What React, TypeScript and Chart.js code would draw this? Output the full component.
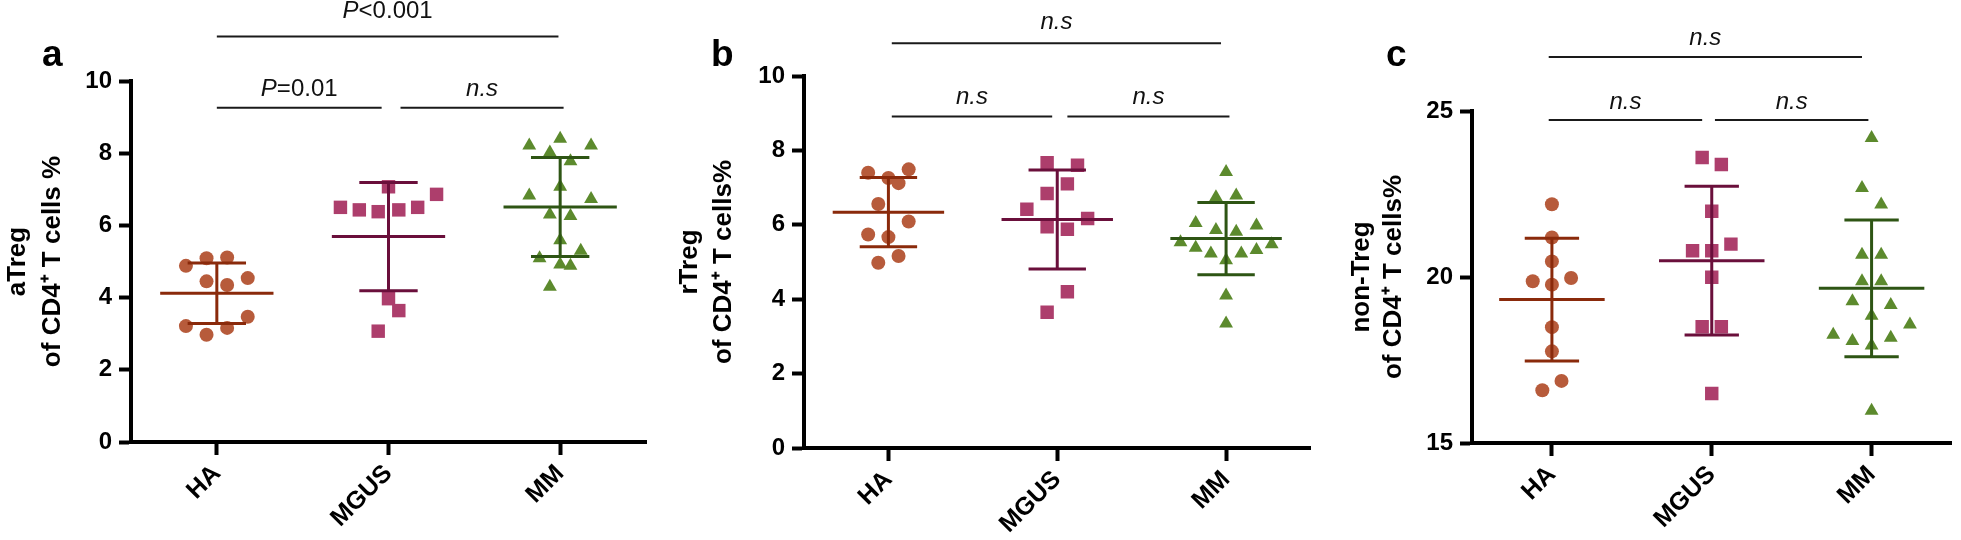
import React, { useEffect, useRef } from 'react';
import { Chart, registerables } from 'chart.js';

Chart.register(...registerables);

const groups = ['HA', 'MGUS', 'MM'];

// ---- Panel a: aTreg of CD4+ T cells % ----
const aHA = [4.88, 5.09, 5.11, 4.54, 4.45, 4.35, 3.21, 2.97, 3.16, 3.47];
const aHAJit = [-0.18, -0.06, 0.06, 0.18, -0.06, 0.06, -0.18, -0.06, 0.06, 0.18];
const aMGUS = [6.5, 6.43, 6.38, 6.43, 6.5, 6.86, 7.07, 3.97, 3.64, 3.07];
const aMGUSJit = [-0.28, -0.17, -0.06, 0.06, 0.17, 0.28, 0, 0, 0.06, -0.06];
const aMM = [8.21, 8.4, 8.21, 8.02, 7.78, 7.07, 6.83, 6.73, 6.3, 6.26, 5.59, 5.3, 5.09, 4.92, 4.88, 4.3];
const aMMJit = [-0.18, 0, 0.18, -0.06, 0.06, 0, -0.18, 0.18, -0.06, 0.06, 0, 0.12, -0.12, 0, 0.06, -0.06];
const aMean = [4.12, 5.69, 6.51];
const aSD = [0.84, 1.5, 1.37];
const aSigLabels = ['P<0.001', 'P=0.01', 'n.s'];
const aSigFrom = [0, 0, 1.07];
const aSigTo = [1.99, 0.96, 2.02];
const aSigY = [11.23, 9.26, 9.26];
const aSigTextY = [11.92, 9.78, 9.78];

// ---- Panel b: rTreg of CD4+ T cells% ----
const bHA = [7.4, 7.26, 7.49, 7.12, 6.56, 6.09, 5.74, 5.67, 5.16, 4.98];
const bHAJit = [-0.12, 0, 0.12, 0.06, -0.06, 0.12, -0.12, 0, 0.06, -0.06];
const bMGUS = [7.67, 7.6, 7.1, 6.84, 6.42, 6.17, 5.95, 5.88, 4.2, 3.65];
const bMGUSJit = [-0.06, 0.12, 0.06, -0.06, -0.18, 0.18, -0.06, 0.06, 0.06, -0.06];
const bMM = [7.42, 6.74, 6.79, 6.05, 5.86, 5.81, 5.98, 5.53, 5.38, 5.23, 5.05, 5.23, 5.32, 5.48, 4.1, 3.35];
const bMMJit = [0, -0.06, 0.06, -0.18, -0.06, 0.06, 0.18, -0.27, -0.18, -0.09, 0, 0.09, 0.18, 0.27, 0, 0];
const bMean = [6.34, 6.14, 5.63];
const bSD = [0.93, 1.33, 0.97];
const bSigLabels = ['n.s', 'n.s', 'n.s'];
const bSigFrom = [0.02, 0.02, 1.06];
const bSigTo = [1.97, 0.97, 2.02];
const bSigY = [10.88, 8.91, 8.91];
const bSigTextY = [11.44, 9.44, 9.44];

// ---- Panel c: non-Treg of CD4+ T cells% ----
const cHA = [22.19, 21.19, 20.47, 19.87, 19.77, 19.97, 18.49, 17.76, 16.87, 16.59];
const cHAJit = [0, 0, 0, -0.12, 0, 0.12, 0, 0, 0.06, -0.06];
const cMGUS = [23.6, 23.39, 21.98, 20.99, 20.79, 20.79, 19.99, 18.5, 18.5, 16.49];
const cMGUSJit = [-0.06, 0.06, 0, 0.12, -0.12, 0, 0, -0.06, 0.06, 0];
const cMM = [24.19, 22.68, 22.18, 20.67, 20.67, 19.87, 19.87, 19.27, 19.16, 18.83, 18.57, 18.26, 18.07, 18.17, 17.94, 15.97];
const cMMJit = [0, -0.06, 0.06, -0.06, 0.06, -0.06, 0.06, -0.12, 0.12, 0, 0.24, -0.24, -0.12, 0.12, 0, 0];
const cMean = [19.32, 20.49, 19.66];
const cSD = [1.85, 2.24, 2.06];
const cSigLabels = ['n.s', 'n.s', 'n.s'];
const cSigFrom = [-0.02, -0.02, 1.02];
const cSigTo = [1.94, 0.94, 1.98];
const cSigY = [26.63, 24.73, 24.73];
const cSigTextY = [27.2, 25.26, 25.26];

const FONT = '"Liberation Sans", Arial, Helvetica, sans-serif';
const pointColors = ['#b75b3b', '#ad3e6c', '#5c8a2d'];
const lineColors = ['#8a2a0b', '#6a0f3b', '#2e5514'];
const pointStyles = ['circle', 'rect', 'triangle'];
const pointRadii = [7, 9.5, 8];

type Panel = {
  letter: string;
  left: number;
  width: number;
  yAxisWidth: number;
  padTop: number;
  padRight: number;
  xAxisHeight: number;
  yMin: number;
  yMax: number;
  yStep: number;
  title: string[];
  titlePad: number;
  titleLH: string;
  letterX: number;
  values: number[][];
  jitter: number[][];
  means: number[];
  sds: number[];
  sigLabels: string[];
  sigFrom: number[];
  sigTo: number[];
  sigY: number[];
  sigTextY: number[];
};

const panels: Panel[] = [
  {
    letter: 'a', left: 0, width: 660, yAxisWidth: 131, padTop: 81, padRight: 14, xAxisHeight: 98,
    yMin: 0, yMax: 10, yStep: 2,
    title: ['aTreg', 'of CD4\u207A T cells %'], titlePad: 0, titleLH: '35px', letterX: 42,
    values: [aHA, aMGUS, aMM], jitter: [aHAJit, aMGUSJit, aMMJit], means: aMean, sds: aSD,
    sigLabels: aSigLabels, sigFrom: aSigFrom, sigTo: aSigTo, sigY: aSigY, sigTextY: aSigTextY,
  },
  {
    letter: 'b', left: 660, width: 660, yAxisWidth: 144, padTop: 76, padRight: 1, xAxisHeight: 92,
    yMin: 0, yMax: 10, yStep: 2,
    title: ['rTreg', 'of CD4\u207A T cells%'], titlePad: 13, titleLH: '34px', letterX: 51,
    values: [bHA, bMGUS, bMM], jitter: [bHAJit, bMGUSJit, bMMJit], means: bMean, sds: bSD,
    sigLabels: bSigLabels, sigFrom: bSigFrom, sigTo: bSigTo, sigY: bSigY, sigTextY: bSigTextY,
  },
  {
    letter: 'c', left: 1320, width: 641, yAxisWidth: 152, padTop: 111, padRight: 0, xAxisHeight: 97,
    yMin: 15, yMax: 25, yStep: 5,
    title: ['non-Treg', 'of CD4\u207A T cells%'], titlePad: 26, titleLH: '32px', letterX: 66,
    values: [cHA, cMGUS, cMM], jitter: [cHAJit, cMGUSJit, cMMJit], means: cMean, sds: cSD,
    sigLabels: cSigLabels, sigFrom: cSigFrom, sigTo: cSigTo, sigY: cSigY, sigTextY: cSigTextY,
  },
];

const overlayPlugin = {
  id: 'overlay',
  afterDatasetsDraw(chart: any, _args: any, opts: any) {
    const p: Panel = opts.panel;
    const { ctx } = chart;
    const x = chart.scales.x;
    const y = chart.scales.y;
    // mean ± SD
    p.means.forEach((m, i) => {
      const sd = p.sds[i];
      const cx = x.getPixelForValue(i);
      const ym = y.getPixelForValue(m);
      const yt = y.getPixelForValue(m + sd);
      const yb = y.getPixelForValue(m - sd);
      ctx.save();
      ctx.strokeStyle = lineColors[i];
      ctx.lineWidth = 3;
      ctx.beginPath();
      ctx.moveTo(x.getPixelForValue(i - 0.33), ym);
      ctx.lineTo(x.getPixelForValue(i + 0.33), ym);
      ctx.moveTo(x.getPixelForValue(i - 0.17), yt);
      ctx.lineTo(x.getPixelForValue(i + 0.17), yt);
      ctx.moveTo(x.getPixelForValue(i - 0.17), yb);
      ctx.lineTo(x.getPixelForValue(i + 0.17), yb);
      ctx.moveTo(cx, yt);
      ctx.lineTo(cx, yb);
      ctx.stroke();
      ctx.restore();
    });
  },
  afterDraw(chart: any, _args: any, opts: any) {
    const p: Panel = opts.panel;
    const { ctx } = chart;
    const x = chart.scales.x;
    const y = chart.scales.y;
    ctx.save();
    // significance brackets
    p.sigLabels.forEach((label, i) => {
      const x1 = x.getPixelForValue(p.sigFrom[i]);
      const x2 = x.getPixelForValue(p.sigTo[i]);
      const ly = y.getPixelForValue(p.sigY[i]);
      ctx.strokeStyle = '#1a1a1a';
      ctx.lineWidth = 2;
      ctx.beginPath();
      ctx.moveTo(x1, ly);
      ctx.lineTo(x2, ly);
      ctx.stroke();
      const ty = y.getPixelForValue(p.sigTextY[i]);
      const mid = (x1 + x2) / 2;
      ctx.fillStyle = '#111';
      ctx.textBaseline = 'middle';
      ctx.textAlign = 'left';
      const italic = `italic 24px ${FONT}`;
      const normal = `24px ${FONT}`;
      if (label.startsWith('P')) {
        ctx.font = italic;
        const w1 = ctx.measureText('P').width;
        ctx.font = normal;
        const rest = label.slice(1);
        const w2 = ctx.measureText(rest).width;
        const sx = mid - (w1 + w2) / 2;
        ctx.font = italic;
        ctx.fillText('P', sx, ty);
        ctx.font = normal;
        ctx.fillText(rest, sx + w1, ty);
      } else {
        ctx.font = italic;
        ctx.textAlign = 'center';
        ctx.fillText(label, mid, ty);
      }
    });
    // panel letter
    ctx.font = `bold 37px ${FONT}`;
    ctx.fillStyle = '#000';
    ctx.textAlign = 'left';
    ctx.textBaseline = 'alphabetic';
    ctx.fillText(p.letter, p.letterX, 66);
    ctx.restore();
  },
};

function PanelChart({ p }: { p: Panel }) {
  const ref = useRef<HTMLCanvasElement>(null);
  useEffect(() => {
    const datasets = p.values.map((vals, gi) => ({
      label: groups[gi],
      data: vals.map((v, k) => ({ x: gi + p.jitter[gi][k], y: v })),
      pointStyle: pointStyles[gi],
      pointRadius: pointRadii[gi],
      pointHoverRadius: pointRadii[gi],
      backgroundColor: pointColors[gi],
      borderColor: pointColors[gi],
      pointBorderWidth: 0,
    }));
    const yTickFont = { family: FONT, size: 24, weight: 'bold' as const };
    const xTickFont = { family: FONT, size: 25, weight: 'bold' as const };
    const chart = new Chart(ref.current as HTMLCanvasElement, {
      type: 'scatter',
      data: { datasets: datasets as any },
      plugins: [overlayPlugin as any],
      options: {
        responsive: false,
        animation: false,
        layout: { padding: { top: p.padTop, left: 0, right: p.padRight, bottom: 0 } },
        plugins: {
          legend: { display: false },
          tooltip: { enabled: false },
          overlay: { panel: p },
        } as any,
        scales: {
          x: {
            type: 'linear',
            min: -0.5,
            max: 2.5,
            afterBuildTicks: (s: any) => {
              s.ticks = [0, 1, 2].map((v) => ({ value: v }));
            },
            afterFit: (s: any) => {
              s.height = p.xAxisHeight;
            },
            ticks: {
              callback: (v: any) => groups[Math.round(Number(v))] ?? '',
              minRotation: 45,
              maxRotation: 45,
              autoSkip: false,
              font: xTickFont,
              color: '#000',
              padding: 4,
            },
            grid: {
              drawOnChartArea: false,
              drawTicks: true,
              tickLength: 13,
              tickWidth: 4,
              tickColor: '#000',
              color: '#000',
            },
            border: { display: true, color: '#000', width: 4 },
          },
          y: {
            type: 'linear',
            min: p.yMin,
            max: p.yMax,
            afterFit: (s: any) => {
              s.width = p.yAxisWidth;
            },
            ticks: {
              stepSize: p.yStep,
              font: yTickFont,
              color: '#000',
              padding: 7,
            },
            grid: {
              drawOnChartArea: false,
              drawTicks: true,
              tickLength: 12,
              tickWidth: 4,
              tickColor: '#000',
              color: '#000',
            },
            border: { display: true, color: '#000', width: 4 },
            title: {
              display: true,
              text: p.title,
              color: '#000',
              font: { family: FONT, size: 26, weight: 'bold', lineHeight: p.titleLH },
              padding: { top: p.titlePad, bottom: 0 },
            },
          },
        },
      } as any,
    });
    return () => chart.destroy();
  }, []);
  return (
    <canvas
      ref={ref}
      width={p.width}
      height={540}
      style={{ position: 'absolute', left: p.left, top: 0, width: p.width, height: 540 }}
    />
  );
}

export default function App() {
  return (
    <div style={{ position: 'absolute', left: 0, top: 0, width: 1961, height: 540, background: '#fff', overflow: 'hidden' }}>
      {panels.map((p) => (
        <PanelChart key={p.letter} p={p} />
      ))}
    </div>
  );
}
